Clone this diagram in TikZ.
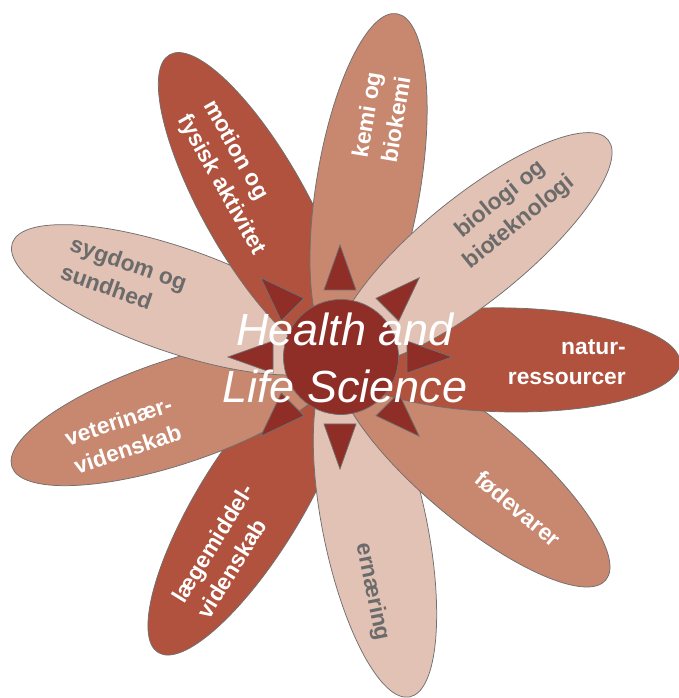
\documentclass[tikz,border=0pt]{standalone}
\usepackage{fontspec}
\setmainfont{Liberation Sans}
\usetikzlibrary{shapes.geometric}

\definecolor{petaldark}{HTML}{B0523D}
\definecolor{petalmid}{HTML}{C8876F}
\definecolor{petallight}{HTML}{E2C2B4}
\definecolor{core}{HTML}{8F2D27}
\definecolor{rim}{HTML}{707070}
\definecolor{greytext}{HTML}{6B6B6B}

\begin{document}
\begin{tikzpicture}[x=1pt,y=1pt,
  petal/.style={ellipse, draw=rim, line width=0.75pt,
    minimum width=346pt, minimum height=104pt, inner sep=0pt},
  dark/.style={petal, fill=petaldark},
  mid/.style={petal, fill=petalmid},
  light/.style={petal, fill=petallight},
  petaltext/.style={font=\fontsize{22.8}{29.5}\selectfont\bfseries, inner sep=0pt},
  ontone/.style={petaltext, text=white},
  onlight/.style={petaltext, text=greytext},
  spike/.style={draw=rim, fill=core, line width=0.75pt, line join=miter}]

\useasboundingbox (-340,-341) rectangle (339,357);

% petals, back to front
\node[dark,  rotate=-121.6] (laegemiddel) at (-121.6:174) {};
\node[light, rotate=-78.4]  (ernaering)   at (-78.4:174) {};
\node[mid,   rotate=-40]    (foedevarer)  at (-40:174) {};
\node[dark,  rotate=-1]     (natur)       at (-1:167) {};
\node[mid,   rotate=-161.5] (veterinaer)  at (-161.5:173) {};
\node[light, rotate=160.8]  (sygdom)      at (160.8:174) {};
\node[dark,  rotate=119.4]  (motion)      at (119.4:174) {};
\node[mid,   rotate=80.6]   (kemi)        at (80.6:175) {};
\node[light, rotate=39]     (biologi)     at (39:172) {};

% spikes around the hub
\foreach \a in {0,45,...,315}
  \draw[spike, rotate=\a] (67,16) -- (112,0) -- (67,-16) -- cycle;

% hub
\node[circle, draw=rim, fill=core, line width=0.75pt, minimum size=115pt,
  inner sep=0pt] (hub) at (1,0) {};

% petal labels
\node[ontone, rotate=80.6, align=center] (tkemi) at (41,240) {kemi og\\biokemi};
\node[ontone, rotate=-60.6, align=left] (tmotion) at (-106,179) {motion og\\fysisk aktivitet};
\node[onlight, rotate=39, align=center] (tbiologi) at (170,146) {biologi og\\bioteknologi};
\node[ontone, align=right, anchor=east] (tnatur) at (286,-5) {natur-\\ressourcer};
\node[ontone, rotate=-40] (tfoedevarer) at (178,-152) {fødevarer};
\node[onlight, rotate=-78.4] (ternaering) at (32,-235) {ernæring};
\node[ontone, rotate=58.4, align=left] (tlaegemiddel) at (-115,-194) {lægemiddel-\\videnskab};
\node[ontone, rotate=18.5, align=left] (tveterinaer) at (-217,-78) {veterinær-\\videnskab};
\node[onlight, rotate=-19.2, align=left] (tsygdom) at (-216,80) {sygdom og\\sundhed};

% title over the hub
\node[font=\fontsize{45}{57}\selectfont\itshape, text=white, align=center,
  inner sep=0pt] (title) at (5,-1) {Health and\\Life Science};
\end{tikzpicture}
\end{document}
